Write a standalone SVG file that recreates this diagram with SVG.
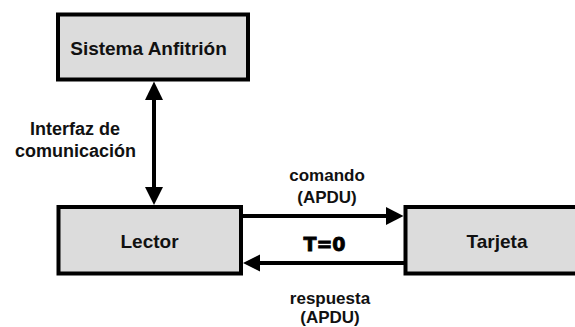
<svg xmlns="http://www.w3.org/2000/svg" width="575" height="327" viewBox="0 0 575 327">
<defs>
<style>
.box{fill:#dcdcdc;stroke:#000;stroke-width:4}
.t{font-family:"Liberation Sans",Arial,sans-serif;font-weight:bold;fill:#111;text-anchor:middle}
.n{font-size:19px}
.l{font-size:17px}
.ll{font-size:18px}
.c{stroke:#000;stroke-width:4;fill:none}
.big{font-family:"DejaVu Sans",sans-serif;font-weight:bold;font-size:19px;fill:#000;stroke:#000;stroke-width:0.8;text-anchor:middle}
</style>
</defs>
<rect width="575" height="327" fill="#fff"/>
<g id="sistema">
<rect class="box" x="58" y="14.5" width="190" height="65"/>
<text class="t n" x="148.5" y="55">Sistema Anfitrión</text>
</g>
<g id="lector">
<rect class="box" x="58.5" y="207" width="182.5" height="66.5"/>
<text class="t n" x="149.5" y="248">Lector</text>
</g>
<g id="tarjeta">
<rect class="box" x="405.5" y="207" width="180" height="66.5"/>
<text class="t n" x="497" y="248">Tarjeta</text>
</g>
<g id="connectors">
<line class="c" x1="154" y1="98" x2="154" y2="189"/>
<polygon points="154,81.5 145,100 163,100"/>
<polygon points="154,205 145,187 163,187"/>
<line class="c" x1="241" y1="216" x2="389" y2="216"/>
<polygon points="403.5,216 386,207 386,225"/>
<line class="c" x1="257" y1="263" x2="405" y2="263"/>
<polygon points="243,263 260,254.5 260,271.5"/>
</g>
<g id="labels">
<text class="t ll" x="75" y="135">Interfaz de</text>
<text class="t ll" x="75.5" y="157">comunicación</text>
<text class="t l" x="327" y="181">comando</text>
<text class="t l" x="327" y="203">(APDU)</text>
<text class="big" x="324.5" y="251">T=0</text>
<text class="t l" x="330" y="304">respuesta</text>
<text class="t l" x="330" y="323">(APDU)</text>
</g>
</svg>
